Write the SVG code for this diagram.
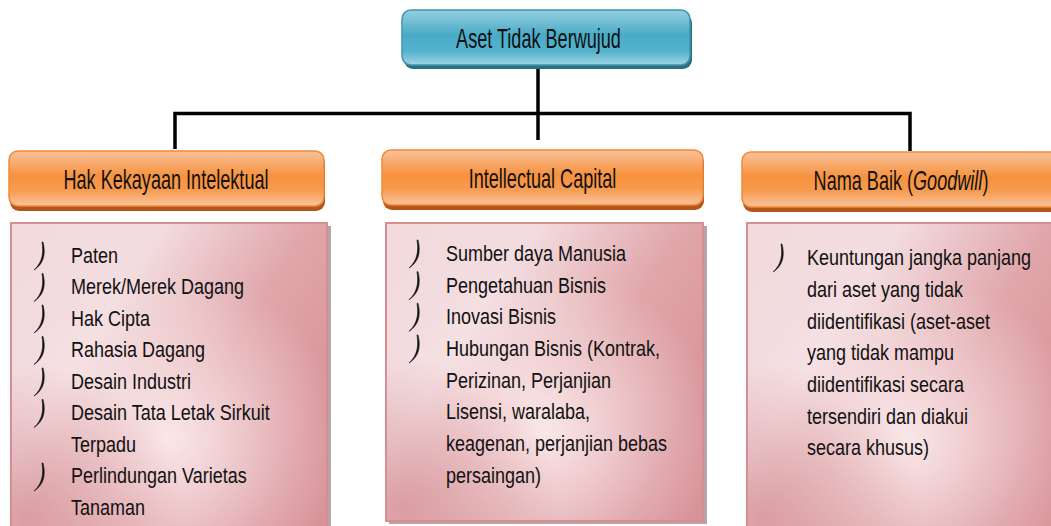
<svg xmlns="http://www.w3.org/2000/svg" xmlns:xlink="http://www.w3.org/1999/xlink" width="1051" height="526" viewBox="0 0 1051 526">
<defs>
<linearGradient id="teal" x1="0" y1="0" x2="0" y2="1">
<stop offset="0" stop-color="#95cfe0"/>
<stop offset="0.45" stop-color="#4aabc7"/>
<stop offset="0.75" stop-color="#55b2cd"/>
<stop offset="1" stop-color="#a0d5e4"/>
</linearGradient>
<linearGradient id="orange" x1="0" y1="0" x2="0" y2="1">
<stop offset="0" stop-color="#f9c29a"/>
<stop offset="0.45" stop-color="#f7923f"/>
<stop offset="0.7" stop-color="#f79a4d"/>
<stop offset="1" stop-color="#f9c39b"/>
</linearGradient>
<linearGradient id="pink" x1="0" y1="0" x2="1" y2="0.6">
<stop offset="0" stop-color="#f2dadc"/>
<stop offset="0.35" stop-color="#f3dde0"/>
<stop offset="0.7" stop-color="#e0a6aa"/>
<stop offset="1" stop-color="#d8939a"/>
</linearGradient>
<radialGradient id="glow" cx="0.5" cy="0.7" r="0.55">
<stop offset="0" stop-color="#fbeaeb" stop-opacity="0.95"/>
<stop offset="1" stop-color="#fbeaeb" stop-opacity="0"/>
</radialGradient>
<radialGradient id="shade" cx="0.05" cy="0.95" r="0.5">
<stop offset="0" stop-color="#d48e93" stop-opacity="0.75"/>
<stop offset="1" stop-color="#d48e93" stop-opacity="0"/>
</radialGradient>
<path id="bul" d="M10,0 C12.5,10 12,21 1,28 C10,20 10.5,10 9,0 Z" fill="#111" stroke="#111" stroke-width="0.6" stroke-linejoin="round"/>
<style>
.hdr{font-family:"Liberation Sans",Arial,sans-serif;font-size:27px;fill:#111;}
.li{font-family:"Liberation Sans",Arial,sans-serif;font-size:22.5px;fill:#111;}
.conn{stroke:#000;stroke-width:3.5;fill:none;stroke-linejoin:miter;}
.obox{fill:url(#orange);stroke:#ef8a3a;stroke-width:1.5;}
.oshadow{fill:#b4561a;}
.pbox{fill:url(#pink);stroke:#d58e94;stroke-width:2;}
.pshadow{fill:#b9a3a5;}
</style>
</defs>
<rect width="1051" height="526" fill="#fff"/>

<g id="connectors">
<path class="conn" d="M538,67 V140"/>
<path class="conn" d="M175,149 V113.5 H910 V151"/>
</g>

<g id="root">
<rect x="404" y="14" width="288" height="55" rx="9" fill="#2c6f80"/>
<rect x="402" y="10" width="288" height="55" rx="9" fill="url(#teal)" stroke="#3d95ad" stroke-width="1.5"/>
<g transform="translate(538.5,48) scale(0.67,1)"><text class="hdr" x="0" y="0" text-anchor="middle">Aset Tidak Berwujud</text></g>
</g>

<g id="hki">
<rect class="oshadow" x="10" y="155" width="315" height="56" rx="9"/>
<rect class="obox" x="9" y="151" width="315" height="55" rx="9"/>
<g transform="translate(166,189) scale(0.67,1)"><text class="hdr" x="0" y="0" text-anchor="middle">Hak Kekayaan Intelektual</text></g>
</g>

<g id="ic">
<rect class="oshadow" x="383" y="154" width="321" height="56" rx="9"/>
<rect class="obox" x="382" y="150" width="321" height="55" rx="9"/>
<g transform="translate(542.5,188) scale(0.67,1)"><text class="hdr" x="0" y="0" text-anchor="middle">Intellectual Capital</text></g>
</g>

<g id="goodwill">
<rect class="oshadow" x="743" y="156" width="320" height="56" rx="9"/>
<rect class="obox" x="742" y="152" width="320" height="55" rx="9"/>
<g transform="translate(901,190) scale(0.67,1)"><text class="hdr" x="0" y="0" text-anchor="middle">Nama Baik (<tspan font-style="italic">Goodwill</tspan>)</text></g>
</g>

<g id="list-hki">
<rect class="pshadow" x="14" y="226" width="317" height="310"/>
<rect class="pbox" x="11" y="223" width="316" height="310"/>
<rect x="12" y="224" width="314" height="308" fill="url(#glow)"/>
<rect x="12" y="224" width="314" height="308" fill="url(#shade)"/>
<use xlink:href="#bul" x="33" y="242"/>
<use xlink:href="#bul" x="33" y="273.5"/>
<use xlink:href="#bul" x="33" y="305"/>
<use xlink:href="#bul" x="33" y="336.5"/>
<use xlink:href="#bul" x="33" y="368"/>
<use xlink:href="#bul" x="33" y="399.5"/>
<use xlink:href="#bul" x="33" y="463"/>
<g transform="translate(71,0) scale(0.8,1)">
<text class="li" x="0" y="263">Paten</text>
<text class="li" x="0" y="294.5">Merek/Merek Dagang</text>
<text class="li" x="0" y="326">Hak Cipta</text>
<text class="li" x="0" y="357.5">Rahasia Dagang</text>
<text class="li" x="0" y="389">Desain Industri</text>
<text class="li" x="0" y="420.5">Desain Tata Letak Sirkuit</text>
<text class="li" x="0" y="452">Terpadu</text>
<text class="li" x="0" y="483.5">Perlindungan Varietas</text>
<text class="li" x="0" y="515">Tanaman</text>
</g>
</g>

<g id="list-ic">
<rect class="pshadow" x="389" y="226" width="318" height="298"/>
<rect class="pbox" x="386" y="223" width="317" height="298"/>
<rect x="387" y="224" width="315" height="296" fill="url(#glow)"/>
<rect x="387" y="224" width="315" height="296" fill="url(#shade)"/>
<use xlink:href="#bul" x="408" y="240"/>
<use xlink:href="#bul" x="408" y="271.7"/>
<use xlink:href="#bul" x="408" y="303.3"/>
<use xlink:href="#bul" x="408" y="335"/>
<g transform="translate(446,0) scale(0.8,1)">
<text class="li" x="0" y="261">Sumber daya Manusia</text>
<text class="li" x="0" y="292.7">Pengetahuan Bisnis</text>
<text class="li" x="0" y="324.3">Inovasi Bisnis</text>
<text class="li" x="0" y="356">Hubungan Bisnis (Kontrak,</text>
<text class="li" x="0" y="387.7">Perizinan, Perjanjian</text>
<text class="li" x="0" y="419.3">Lisensi, waralaba,</text>
<text class="li" x="0" y="451">keagenan, perjanjian bebas</text>
<text class="li" x="0" y="482.7">persaingan)</text>
</g>
</g>

<g id="list-goodwill">
<rect class="pbox" x="747" y="223" width="320" height="310"/>
<rect x="748" y="224" width="318" height="308" fill="url(#glow)"/>
<rect x="748" y="224" width="318" height="308" fill="url(#shade)"/>
<use xlink:href="#bul" x="772" y="244"/>
<g transform="translate(807,0) scale(0.8,1)">
<text class="li" x="0" y="265.5">Keuntungan jangka panjang</text>
<text class="li" x="0" y="297.2">dari aset yang tidak</text>
<text class="li" x="0" y="328.8">diidentifikasi (aset-aset</text>
<text class="li" x="0" y="360.5">yang tidak mampu</text>
<text class="li" x="0" y="392.2">diidentifikasi secara</text>
<text class="li" x="0" y="423.8">tersendiri dan diakui</text>
<text class="li" x="0" y="455.5">secara khusus)</text>
</g>
</g>
</svg>
